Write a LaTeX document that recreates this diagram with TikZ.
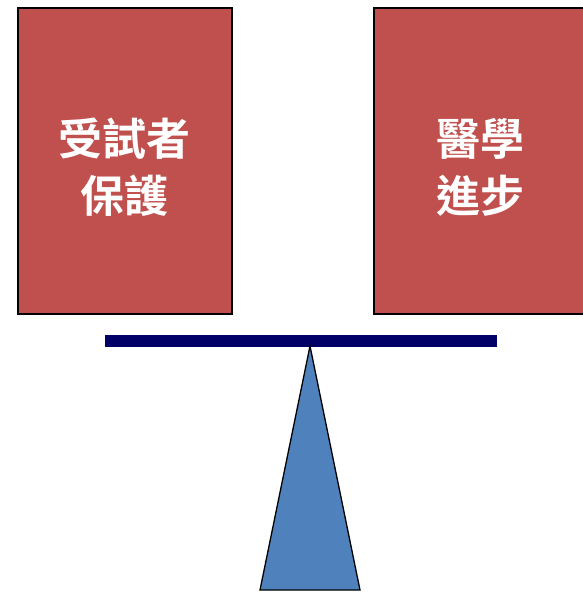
\documentclass[tikz,border=0pt]{standalone}
\usepackage{fontspec}
\newfontfamily\cjk{Noto Sans CJK TC Bold}
\definecolor{boxred}{HTML}{C0504D}
\definecolor{beamblue}{HTML}{000066}
\definecolor{tribl}{HTML}{4F81BD}
\begin{document}
\begin{tikzpicture}[x=1pt,y=-1pt,
  redbox/.style={draw=black,line width=1.5pt,fill=boxred},
  boxtext/.style={text=white,font=\cjk\fontsize{44}{57}\selectfont,align=center}]
\useasboundingbox (0,0) rectangle (583,592);
\path[redbox] (18,8) rectangle (232,314);
\path[redbox] (374,8) rectangle (590,314);
\node[boxtext] (lt) at (124,167) {受試者\\保護};
\node[boxtext] (rt) at (480,167) {醫學\\進步};
\fill[beamblue] (105,334.5) rectangle (497,346.5);
\coordinate (apex) at (310,346);
\coordinate (bl) at (260,590);
\coordinate (br) at (360,590);
\draw[fill=tribl,line width=1.3pt,line join=miter] (apex) -- (br) -- (bl) -- cycle;
\end{tikzpicture}
\end{document}
